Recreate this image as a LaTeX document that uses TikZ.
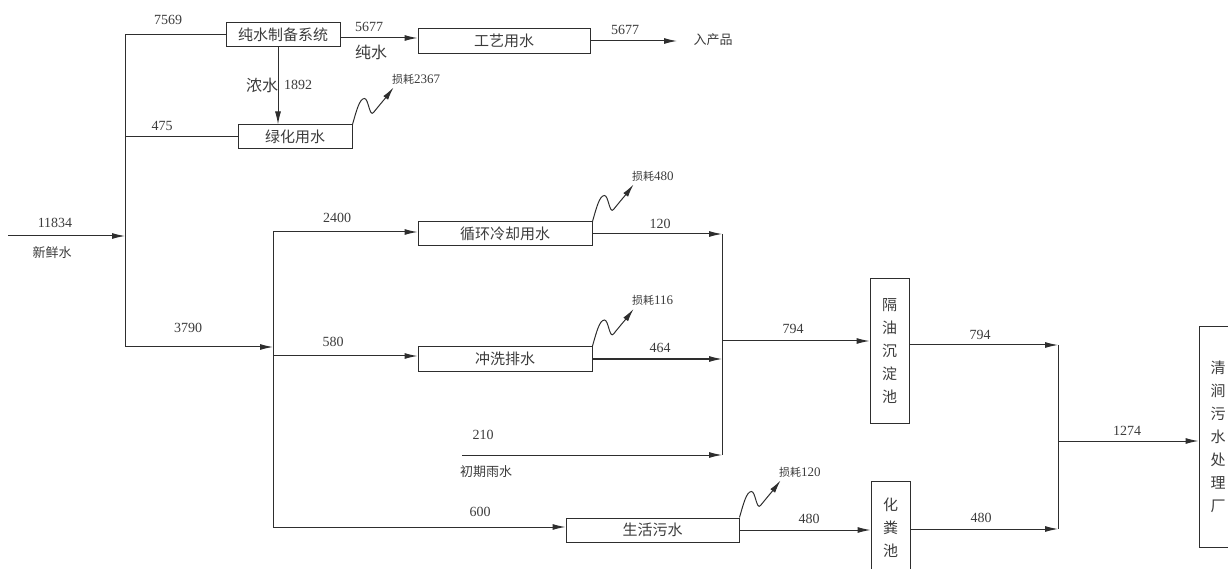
\documentclass[tikz,border=0pt]{standalone}
\usepackage{fontspec}
\setmainfont{Liberation Serif}
\newfontfamily\cjk{Noto Sans CJK SC}
\usetikzlibrary{arrows.meta,positioning,calc}
\definecolor{lineg}{HTML}{2E2E2E}
\definecolor{textg}{HTML}{3C3C3C}

\begin{document}
\begin{tikzpicture}[
x=1pt,y=1pt,
box/.style={draw=lineg,line width=1pt,inner sep=0pt,minimum height=24,
font=\cjk\fontsize{15}{18}\selectfont,text=textg},
vbox/.style={box,align=center,minimum width=39,
font=\cjk\fontsize{15}{23}\selectfont},
num/.style={font=\fontsize{14}{16}\selectfont,text=textg,inner sep=0pt},
lbl/.style={font=\cjk\fontsize{13}{15}\selectfont,text=textg,inner sep=0pt},
pipe/.style={draw=lineg,line width=1pt},
arr/.style={pipe,-{Latex[length=13pt,width=6pt]}}
]
\useasboundingbox (0,0) rectangle (1228,568);

% units
\node[box,minimum width=114] (pure) at (283,533) {纯水制备系统};
\node[box,minimum width=172,minimum height=25] (proc) at (504,527) {工艺用水};
\node[box,minimum width=114] (green) at (295,431) {绿化用水};
\node[box,minimum width=174] (cool) at (505,334) {循环冷却用水};
\node[box,minimum width=174,minimum height=25] (wash) at (505,209) {冲洗排水};
\node[box,minimum width=173] (life) at (652.5,38) {生活污水};
\node[vbox,minimum height=144] (oil) at (889.5,217) {隔\\油\\沉\\淀\\池};
\node[vbox,minimum height=94] (septic) at (890.5,40) {化\\粪\\池};
\node[vbox,minimum width=38,minimum height=220] (plant) at (1218,131)
{清\\涧\\污\\水\\处\\理\\厂};

% junctions
\coordinate (in) at (8,332);
\coordinate (m1) at (125,332);
\coordinate (mt) at (125,533);
\coordinate (mg) at (125,431);
\coordinate (mb) at (125,221);
\coordinate (st) at (273,336);
\coordinate (sw) at (273,212);
\coordinate (sb) at (273,41);
\coordinate (prod) at (677,527);
\coordinate (ct) at (722,334);
\coordinate (rain) at (462,113);
\coordinate (cb) at (722,113);
\coordinate (co) at (722,227);
\coordinate (dt) at (1058,223);
\coordinate (db) at (1058,39);
\coordinate (dm) at (1058,127);

% pipes
\draw[arr] (in) -- (m1);
\draw[pipe] (mt) -- (mb);
\draw[pipe] (mt) -- (pure.west);
\draw[pipe] (mg) -- (green.west);
\draw[arr] (mb) -- (mb -| st);
\draw[pipe] (st) -- (sb);
\draw[arr] ([yshift=-3]pure.east) -- ([yshift=-3]pure.east -| proc.west);
\draw[arr] (proc.east) -- (prod);
\draw[arr] ([xshift=-5]pure.south) -- ([xshift=-5]pure.south |- green.north);
\draw[arr] (st) -- (st -| cool.west);
\draw[arr] (sw) -- (sw -| wash.west);
\draw[arr] (sb) -- (sb -| life.west);
\draw[arr] (cool.east) -- (ct);
\draw[arr] (wash.east) -- (wash.east -| ct);
\draw[arr] (rain) -- (cb);
\draw[pipe] (ct) -- (cb);
\draw[arr] (co) -- (co -| oil.west);
\draw[arr] (life.east) -- (life.east -| septic.west);
\draw[arr] (dt -| oil.east) -- (dt);
\draw[arr] (db -| septic.east) -- (db);
\draw[pipe] (dt) -- (db);
\draw[arr] (dm) -- (dm -| plant.west);

% losses
\foreach \n/\v in {green/2367,cool/480,wash/116,life/120}
\draw[arr] (\n.north east) .. controls +(4,14) and +(-5,0) .. ++(12,26)
.. controls +(4,0) and +(-4,-5) .. ++(9,-14)
.. controls +(4,5) and +(-6,-8) .. ++(20,25)
node[lbl,font=\cjk\fontsize{11}{13}\selectfont,anchor=south west,
xshift=-2,yshift=3] (loss\n) {损耗{\rmfamily\fontsize{13}{13}\selectfont\v}};

% flow values
\node[num] (v7569) at (168,548) {7569};
\node[num] (v5677a) at (369,541) {5677};
\node[lbl,font=\cjk\fontsize{16}{18}\selectfont] (pw) at (371,516) {纯水};
\node[num] (v5677b) at (625,538) {5677};
\node[lbl] (prodl) at (713,528) {入产品};
\node[lbl,font=\cjk\fontsize{16}{18}\selectfont] (cw) at (262,483) {浓水};
\node[num] (v1892) at (298,483) {1892};
\node[num] (v475) at (162,442) {475};
\node[num] (v11834) at (55,345) {11834};
\node[lbl] (fresh) at (52,315) {新鲜水};
\node[num] (v3790) at (188,240) {3790};
\node[num] (v2400) at (337,350) {2400};
\node[num] (v120) at (660,344) {120};
\node[num] (v580) at (333,226) {580};
\node[num] (v464) at (660,220) {464};
\node[num] (v210) at (483,133) {210};
\node[lbl] (rainl) at (486,96) {初期雨水};
\node[num] (v600) at (480,56) {600};
\node[num] (v480a) at (809,49) {480};
\node[num] (v794a) at (793,239) {794};
\node[num] (v794b) at (980,233) {794};
\node[num] (v480b) at (981,50) {480};
\node[num] (v1274) at (1127,137) {1274};
\end{tikzpicture}
\end{document}
